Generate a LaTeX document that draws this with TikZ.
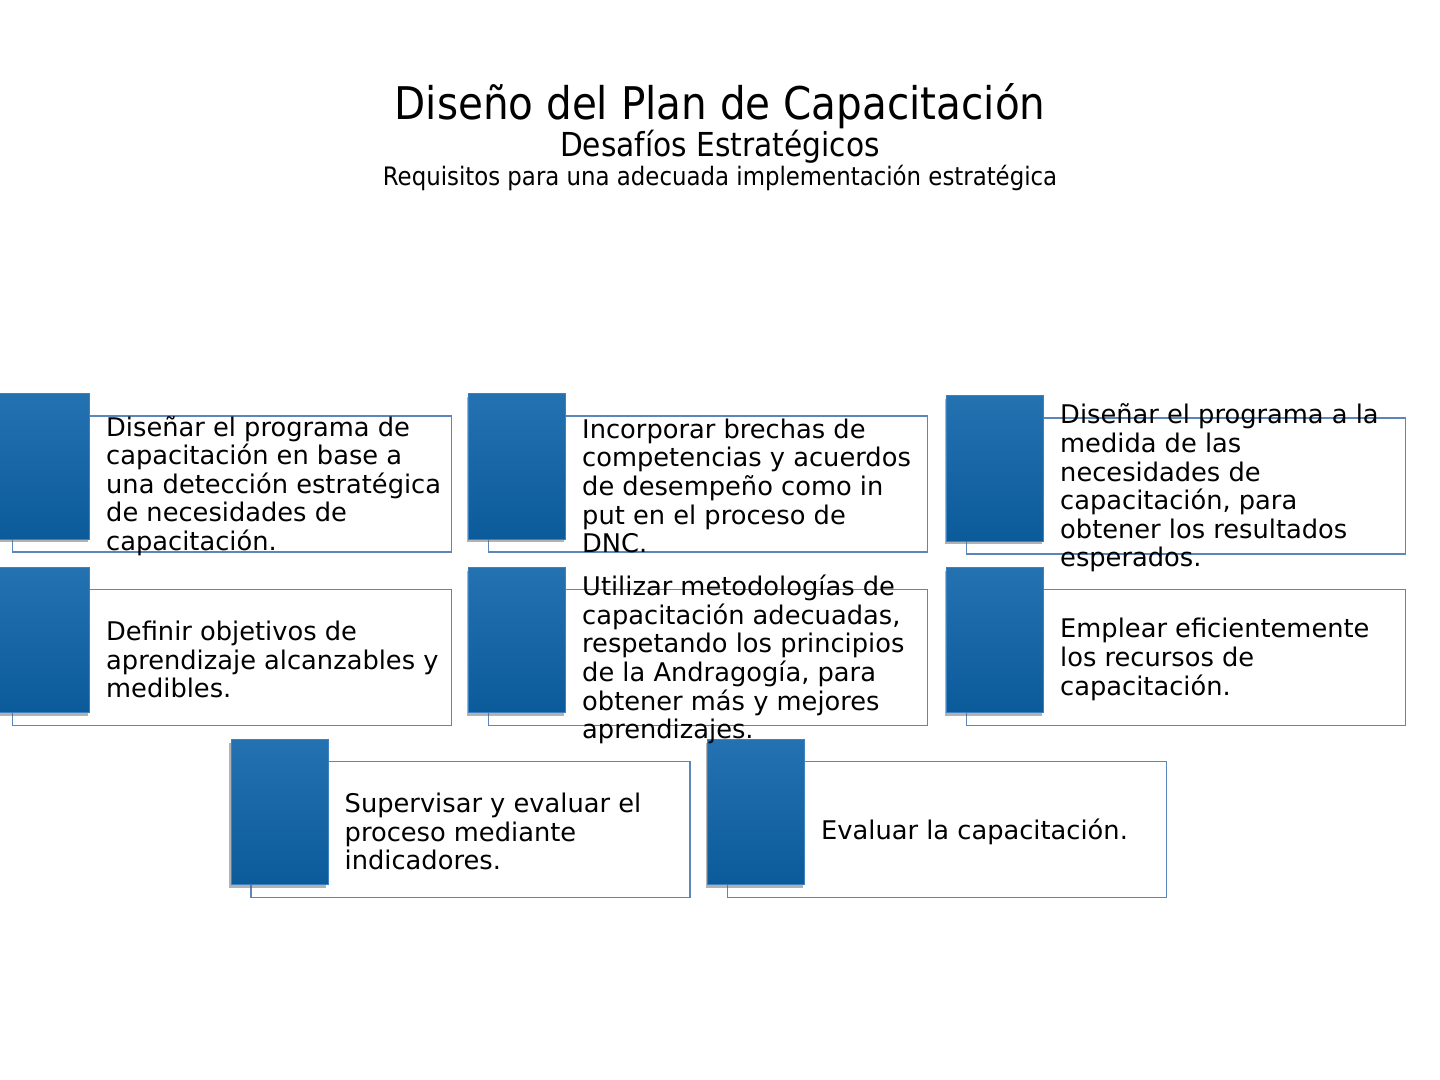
\documentclass[tikz,border=0pt]{standalone}
\usepackage{fontspec}
\setmainfont{DejaVu Sans}
\newfontfamily\titlefont[FakeStretch=0.9]{DejaVu Sans}
\usepackage{tikz}
\usetikzlibrary{positioning}
\usetikzlibrary{shadows}

\definecolor{tabblue}{RGB}{12,98,168}
\definecolor{tabedge}{RGB}{60,130,195}
\definecolor{frameblue}{RGB}{92,134,186}

\begin{document}
\begin{tikzpicture}[
        x=0.5pt, y=-0.5pt,
        framenode/.style={rectangle, draw=frameblue, fill=white, line width=0.7pt, minimum width=219.5pt, minimum height=68pt, inner sep=0pt},
        tabnode/.style={rectangle, top color=tabblue!90!white, middle color=tabblue, bottom color=tabblue!92!black,
            draw=tabedge, line width=0.5pt, minimum width=48.5pt, minimum height=72.5pt, inner sep=0pt,
            drop shadow={shadow xshift=-1pt, shadow yshift=-1.5pt, opacity=0.5, fill=black!60}},
        itemtext/.style={anchor=west, inner sep=0pt, align=left, font=\fontsize{12.85pt}{14.3pt}\selectfont},
        ]
        \useasboundingbox (0,0) rectangle (1440,1080);

        %Titles
        \node[anchor=base] (title) at (720,120) {\titlefont\fontsize{22.5pt}{26pt}\selectfont Diseño del Plan de Capacitación};
        \node[anchor=base] (sub)   at (720,157) {\titlefont\fontsize{16.5pt}{19pt}\selectfont Desafíos Estratégicos};
        \node[anchor=base] (req)   at (720,186) {\titlefont\fontsize{12.7pt}{14pt}\selectfont Requisitos para una adecuada implementación estratégica};

        %Frames
        \node[framenode] (f1) at (232,484)   {};
        \node[framenode] (f2) at (708,484)   {};
        \node[framenode] (f3) at (1186,486)  {};
        \node[framenode] (f4) at (232,657.5) {};
        \node[framenode] (f5) at (708,657.5) {};
        \node[framenode] (f6) at (1186,657.5){};
        \node[framenode] (f7) at (470.5,829.5) {};
        \node[framenode] (f8) at (947,829.5) {};

        %Tabs
        \foreach \i in {1,...,8}
            \node[tabnode] (t\i) at ([xshift=14.75pt, yshift=8.75pt]f\i.west) {};

        %Texts
        \node[itemtext] (x1) at ([xshift=47pt, yshift=-1pt]f1.west) {Diseñar el programa de\\capacitación en base a\\una detección estratégica\\de necesidades de\\capacitación.};
        \node[itemtext] (x2) at ([xshift=47pt, yshift=-1pt]f2.west) {Incorporar brechas de\\competencias y acuerdos\\de desempeño como in\\put en el proceso de\\DNC.};
        \node[itemtext] (x3) at ([xshift=47pt, yshift=-1pt]f3.west) {Diseñar el programa a la\\medida de las\\necesidades de\\capacitación, para\\obtener los resultados\\esperados.};
        \node[itemtext] (x4) at ([xshift=47pt, yshift=-1pt]f4.west) {Definir objetivos de\\aprendizaje alcanzables y\\medibles.};
        \node[itemtext] (x5) at ([xshift=47pt, yshift=-1pt]f5.west) {Utilizar metodologías de\\capacitación adecuadas,\\respetando los principios\\de la Andragogía, para\\obtener más y mejores\\aprendizajes.};
        \node[itemtext] (x6) at ([xshift=47pt, yshift=-1pt]f6.west) {Emplear eficientemente\\los recursos de\\capacitación.};
        \node[itemtext] (x7) at ([xshift=47pt, yshift=-1pt]f7.west) {Supervisar y evaluar el\\proceso mediante\\indicadores.};
        \node[itemtext] (x8) at ([xshift=47pt, yshift=-1pt]f8.west) {Evaluar la capacitación.};
    \end{tikzpicture}
\end{document}
